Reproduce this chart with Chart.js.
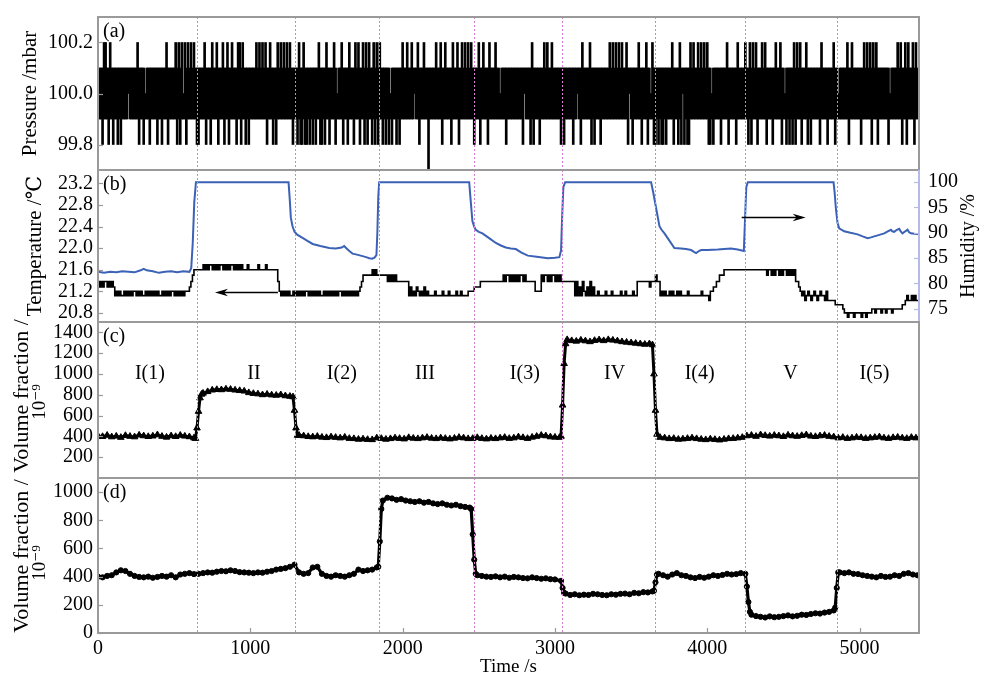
<!DOCTYPE html>
<html><head><meta charset="utf-8">
<script src="https://cdn.jsdelivr.net/npm/chart.js@4.4.1/dist/chart.umd.min.js"></script>
<style>
html,body{margin:0;padding:0;background:#fff;}
#wrap{position:relative;width:984px;height:678px;background:#fff;}
#wrap canvas{position:absolute;left:0;top:0;}
</style></head>
<body><div id="wrap">
<canvas id="cA" width="984" height="678"></canvas>
<canvas id="cB" width="984" height="678"></canvas>
<canvas id="cC" width="984" height="678"></canvas>
<canvas id="cD" width="984" height="678"></canvas>
</div>
<script>
// ---------------- DATA ----------------
const X_MAX = 5390;
const X_TICKS = [0, 1000, 2000, 3000, 4000, 5000];
const PHASE_BOUNDS = [650, 1293, 1844, 2467, 3045, 3655, 4245, 4849];
const PHASE_LABELS = ['I(1)', 'II', 'I(2)', 'III', 'I(3)', 'IV', 'I(4)', 'V', 'I(5)'];
const PHASE_LABEL_T = [341, 1024, 1601, 2146, 2802, 3392, 3950, 4547, 5098];
const PHASE_LABEL_V = 1000;

// (a) pressure: min..max range within each 10 s window, coded
const P_STEP = 10;
const P_N = 539;
const P_RANGES = {'0': [99.7, 100.1], '1': [99.8, 100.1], '2': [99.9, 100.1],
                  '3': [99.9, 100.0], '4': [100.0, 100.1], '5': [99.9, 100.2]};
const P_BASE = [
"222222222232222222224222222222232222222222222422222222223222",
"222222422222222222232222222222222422222222222222322222222222",
"222232222222222222222422222222222222232222222222222222422222",
"222222222222322222222222222242222222222222222232222222222222",
"222222242222222222222222322222222222222242222222222222232222",
"222222222222222422222222222222322222222222222222242222222222",
"222322222222222222222222422222222222222222232222222222222222",
"222222222242222222222222222222232222222222222222422222222222",
"222222322222222222222422222222222222222232222222222222222422",
"222222222222222222322222222222222224222222222222222222222222"
].join('');
const P_UP_IDX = [4,5,8,26,45,51,53,55,57,59,61,63,70,75,78,82,85,88,92,93,95,104,106,108,110,113,118,120,122,124,126,132,135,145,150,155,160,165,169,171,174,176,178,181,183,185,200,203,206,210,214,222,225,228,233,236,239,241,243,245,250,253,257,261,285,293,295,298,318,323,336,338,340,342,344,347,355,360,364,377,382,389,391,394,396,398,400,413,420,425,428,430,432,436,438,445,448,457,459,461,465,475,483,492,495,503,505,507,509,511,525,527,530,532,535,537];
const P_DOWN_IDX = [3,7,10,13,15,27,30,34,39,42,46,52,54,58,65,66,71,74,79,83,86,91,94,97,99,111,115,117,128,131,133,134,136,137,139,141,143,146,147,149,152,156,161,164,168,172,175,177,180,182,184,187,189,191,193,196,198,211,226,232,237,247,251,256,268,279,284,286,290,304,306,312,317,324,326,330,348,351,357,361,365,366,368,370,371,373,378,381,383,385,387,388,401,402,404,409,414,419,427,429,433,439,443,449,452,454,456,458,462,466,468,474,479,484,493,501,508,512,519,528,531,536];
const P_DEEP_IDX = [217];

// (b) temperature (left axis), level codes every 10 s from segment start
const T_LEVELS = {A:20.72,B:20.80,C:20.87,D:20.95,E:21.03,F:21.12,G:21.20,H:21.28,I:21.38,J:21.50,K:21.60,L:21.69};
const T_STEP = 10;
const TEMP_SEGS = [
 [0,    "IHIHIIHIHIH"],
 [110,  "FGFGFFGFGFGFGGFGFGFFGFGFGFGFGFFGFGFGFGGFGFGFGFG"],
 [590,  "GHIJK"],
 [640,  "KKKKKLKLKLLKLKLKLLKLKLKLLKLKLKLKKKLKKKKKKLKKKKLKKKKKKK"],
 [1180, "IG"],
 [1200, "FGFGFGFFGFGFGFGFGGFGFGFGFGFFGFGFGFGFGFGGFGFGFGFGFGFG"],
 [1720, "HIJJJJJJKJKJ"],
 [1840, "JJJJJJIJIJIJI"],
 [1970, "IIIIIII"],
 [2040, "FHFGFHGFGFHFGF"],
 [2180, "FFFGFFFFGFFFGFFFFGFFGFFFF"],
 [2430, "GGGGHHHHIIII"],
 [2550, "IIIIIIIIII"],
 [2650, "IJIJJIJIJIJIJJIJ"],
 [2810, "IIIIII"],
 [2870, "GGGG"],
 [2910, "JIJJIJIJJIJIJ"],
 [3040, "IIIIIIIII"],
 [3130, "FIFHFIGFHFIFH"],
 [3260, "FFGFFFFGFFFGFFFFFGFFGFFFFGFF"],
 [3540, "IIIIIIIIHIIIJ"],
 [3670, "IIF"],
 [3700, "GFGFFGFGFFGFG"],
 [3830, "FFFFGFFFFFFFFGFFFF"],
 [4010, "E"],
 [4020, "GGHHIIJJJKKK"],
 [4140, "KKKKKKKKKKKKKKKKKKKKKKKK"],
 [4380, "KJKKJKJKKJKJKKJKJKJK"],
 [4580, "IIHG"],
 [4620, "FGEFGFEFGFEFGFFEG"],
 [4790, "EEEEEDDDDDC"],
 [4900, "BBABBBABBBBABBABBB"],
 [5080, "CCBCCCBCCBCCCBCCCC"],
 [5260, "CCDD"],
 [5300, "EFEEFEFEEE"]
];

// (b) humidity (right axis)
const HUM_T = [0,40,80,120,160,200,240,280,300,320,360,400,440,480,520,560,600,612,622,632,643,
 1251,1258,1266,1277,1290,1310,1343,1375,1409,1460,1518,1560,1600,1616,1632,1650,1671,1700,1737,1760,1781,1800,1815,1828,1834,1840,1846,
 2437,2445,2458,2470,2480,2500,2524,2570,2612,2645,2677,2710,2743,2780,2822,2880,2953,3000,3029,3040,3047,3055,3067,
 3631,3645,3664,3686,3700,3719,3750,3784,3828,3860,3894,3915,3927,3945,3960,4000,4069,4110,4156,4200,4240,4247,4256,4266,
 4829,4836,4844,4855,4866,4899,4940,4987,5020,5052,5075,5096,5130,5162,5185,5206,5215,5227,5245,5260,5270,5282,5300,5315,5325,5337,5360,5390];
const HUM_V = [82.3,82.1,82.3,82.2,82.4,82.3,82.2,82.6,82.9,82.6,82.4,82.1,82.3,82.4,82.2,82.4,82.3,83,88,96,100,
 100,97,93,91.3,90.2,89.6,89.0,88.4,87.8,87.4,87.0,86.9,87.1,87.4,86.9,86.4,85.9,85.7,85.4,85.2,85.0,84.9,85.1,85.6,90,97,100,
 100,97,92.3,91.2,90.6,90.2,89.9,88.9,88.0,87.5,87.1,86.9,86.8,86.1,85.5,85.3,85.0,85.1,85.2,86.5,93,99,100,
 100,98,94.9,91.3,90.6,89.9,88.5,87.0,86.9,86.8,86.6,86.2,86.0,86.4,86.6,86.6,86.7,86.8,86.9,86.7,86.4,92,99,100,
 100,98,94.9,92,90.9,90.3,90.0,89.7,89.3,88.95,89.1,89.3,89.6,89.9,90.3,90.6,90.3,90.2,90.6,90.8,90.3,89.9,90.3,90.6,90.1,89.9,89.8,89.7];

// arrows in (b)
const ARROW_TEMP_T = [1181, 768];   const ARROW_TEMP_V = 21.18;
const ARROW_HUM_T = [4226, 4646];   const ARROW_HUM_V = 93.2;

// (c) and (d) volume fraction (10^-9): [start s, step s, values]
const GAS_C_SEGS = [
 [0,    30, [405,398,410,395,402,390,408,400,395,412,405,398,403,415,400,392,405,398,410,402,396,385]],
 [640,  10, [380,480,640,770,805]],
 [690,  30, [815,830,845,850,848,855,852,845,840,835,820,812,808,800,805,798,795,800,790,785]],
 [1280, 10, [780,650,480,410]],
 [1320, 30, [410,405,398,395,400,392,388,395,390,385,392,380,378,372,375,370,368,385,380,372,378,385,380,375,388,382,378,385,390,382,378,385,380,375,382,390,385,378,380,388,380,375,382,378,385,390,380,385,395,388,380,392,400,410,405,395,392,390]],
 [3040, 10, [400,700,1100,1290]],
 [3080, 30, [1330,1320,1315,1325,1318,1310,1322,1328,1320,1330,1325,1318,1310,1305,1300,1295,1290,1285,1290]],
 [3640, 10, [1280,1000,650,420]],
 [3690, 30, [390,385,378,380,372,375,380,385,378,372,368,375,370,365,372,378,380,385,390]],
 [4260, 30, [405,410,400,415,408,402,410,405,398,412,405,400,408,415,402,398,405,410,400,395]],
 [4860, 30, [385,390,380,385,392,388,380,385,390,395,385,380,388,392,385,380,390,385,388]]
];
const GAS_D_SEGS = [
 [0,    30, [400,395,405,410,430,445,440,420,405,398,395,400,392,398,405,400,410,395,415,420,425,418]],
 [660,  30, [420,425,430,428,435,440,438,445,440,432,430,428,425,430,428,435,440,450,455,460,470,485]],
 [1320, 30, [430,420,425,465,470,420,405,400,410,405,400,410,420,450,440,445,450,465]],
 [1840, 10, [470,650,880]],
 [1870, 30, [940,960,955,945,950,940,935,930,935,925,930,920,915,920,910,905,910,900,895,890]],
 [2450, 10, [880,700,520,420]],
 [2490, 30, [410,405,400,398,402,395,400,392,398,395,390,388,395,390,385,388,382,380]],
 [3040, 10, [370,320,285]],
 [3070, 30, [280,270,275,268,272,270,278,275,270,268,275,272,278,280,275,285,282,290,288,295]],
 [3650, 10, [300,360,415]],
 [3680, 30, [420,410,400,415,425,410,405,395,390,398,392,400,410,405,412,420,415,418,425]],
 [4250, 10, [420,330,220,150]],
 [4290, 30, [130,120,115,110,118,112,115,120,125,118,122,130,128,135,140,138,145,150,160]],
 [4840, 10, [180,320,430]],
 [4870, 30, [430,425,430,420,418,410,405,400,395,405,398,400,410,405,420,425,415,410]]
];

// axis ticks
const P_TICKS = [99.8, 100.0, 100.2];
const T_TICKS = [20.8, 21.2, 21.6, 22.0, 22.4, 22.8, 23.2];
const H_TICKS = [75, 80, 85, 90, 95, 100];
const C_TICKS = [200, 400, 600, 800, 1000, 1200, 1400];
const D_TICKS = [0, 200, 400, 600, 800, 1000];

// ---------------- BUILD SERIES ----------------
const pCodes = P_BASE.slice(0, P_N).split('');
P_UP_IDX.forEach(i => { pCodes[i] = '5'; });
P_DOWN_IDX.forEach(i => { if (pCodes[i] !== '5') pCodes[i] = '1'; });
P_DEEP_IDX.forEach(i => { pCodes[i] = '0'; });
const pressure = pCodes.map((c, i) => ({x: i * P_STEP, y: P_RANGES[c]}));

function fromCodeSegs(segs, step, levels) {
  const m = new Map();
  segs.forEach(([t0, s]) => s.split('').forEach((c, k) => m.set(t0 + step * k, levels[c])));
  return [...m.keys()].sort((a, b) => a - b).map(t => ({x: t, y: m.get(t)}));
}
function fromValSegs(segs) {
  const m = new Map();
  segs.forEach(([t0, step, arr]) => arr.forEach((v, k) => m.set(t0 + step * k, v)));
  return [...m.keys()].sort((a, b) => a - b).map(t => ({x: t, y: m.get(t)}));
}
const temperature = fromCodeSegs(TEMP_SEGS, T_STEP, T_LEVELS);
const humidity = HUM_T.map((t, i) => ({x: t, y: HUM_V[i]}));
const gasC = fromValSegs(GAS_C_SEGS);
const gasD = fromValSegs(GAS_D_SEGS);

// ---------------- STYLE ----------------
const FONT = "'Liberation Serif','DejaVu Serif',serif";
Chart.defaults.font.family = FONT;
Chart.defaults.font.size = 20;
Chart.defaults.color = '#000';
const GRAY = '#9a9a9a';
const BLUE = '#3b62b6';
const BLUE_AXIS = '#b3bbe6';
const PHASE_COLOR = '#d67fd6';

function xHidden() { return {type: 'linear', min: 0, max: X_MAX, offset: false, display: false}; }

function leftAxis(min, max, ticks, dec, title, tsize, tpad) {
  return {
    type: 'linear', position: 'left', min: min, max: max,
    afterFit(s) { s.width = 98; },
    afterBuildTicks(s) { s.ticks = ticks.map(v => ({value: v})); },
    grid: {display: false, drawTicks: false},
    border: {display: false},
    ticks: {padding: 5, autoSkip: false, font: {size: 20}, color: '#000',
            callback: v => Number(v).toFixed(dec)},
    title: title ? {display: true, text: title, color: '#000',
            font: {size: tsize}, padding: {top: tpad, bottom: 0}} : {display: false}
  };
}

function drawArrow(ctx, x1, y, x2) {
  const d = Math.sign(x2 - x1);
  ctx.save();
  ctx.strokeStyle = '#000'; ctx.fillStyle = '#000'; ctx.lineWidth = 1.3;
  ctx.beginPath(); ctx.moveTo(x1, y); ctx.lineTo(x2 - d * 6, y); ctx.stroke();
  ctx.beginPath(); ctx.moveTo(x2, y); ctx.lineTo(x2 - d * 13, y - 3.8);
  ctx.lineTo(x2 - d * 9, y); ctx.lineTo(x2 - d * 13, y + 3.8); ctx.closePath(); ctx.fill();
  ctx.restore();
}

function drawVolTitle(ctx, cx, cy, cy2) {
  ctx.save();
  ctx.fillStyle = '#000'; ctx.textAlign = 'center'; ctx.textBaseline = 'middle';
  ctx.translate(cx, cy); ctx.rotate(-Math.PI / 2);
  ctx.font = '22px ' + FONT;
  ctx.fillText('Volume fraction /', 0, 0);
  ctx.restore();
  ctx.save();
  ctx.fillStyle = '#000'; ctx.textAlign = 'center'; ctx.textBaseline = 'middle';
  ctx.translate(cx + 18, cy2); ctx.rotate(-Math.PI / 2);
  ctx.font = '19px ' + FONT;
  ctx.fillText('10\u207B\u2079', 0, 0);
  ctx.restore();
}

function panelPlugin(cfg) {
  return {
    id: 'panel' + cfg.tag.replace(/\W/g, ''),
    afterDatasetsDraw(chart) {
      const {ctx, chartArea: a, scales} = chart;
      ctx.save();
      // phase boundary lines
      ctx.strokeStyle = PHASE_COLOR; ctx.lineWidth = 1; ctx.setLineDash([2, 2]);
      PHASE_BOUNDS.forEach(t => {
        const x = Math.round(scales.x.getPixelForValue(t)) + 0.5;
        ctx.beginPath(); ctx.moveTo(x, a.top); ctx.lineTo(x, a.bottom); ctx.stroke();
      });
      ctx.setLineDash([]);
      // frame
      ctx.strokeStyle = GRAY; ctx.lineWidth = 2;
      ctx.strokeRect(a.left, a.top, a.right - a.left, a.bottom - a.top);
      if (cfg.rightColor) {
        ctx.strokeStyle = cfg.rightColor;
        ctx.beginPath(); ctx.moveTo(a.right, a.top); ctx.lineTo(a.right, a.bottom); ctx.stroke();
      }
      // inner tick marks
      ctx.lineWidth = 1.2;
      Object.values(scales).forEach(s => {
        if (!s.options.display) return;
        (s.ticks || []).forEach(tk => {
          const p = Math.round(s.getPixelForValue(tk.value)) + 0.5;
          ctx.beginPath();
          if (s.axis === 'x') {
            ctx.strokeStyle = GRAY; ctx.moveTo(p, a.bottom); ctx.lineTo(p, a.bottom - 5);
          } else if (s.position === 'left') {
            ctx.strokeStyle = GRAY; ctx.moveTo(a.left, p); ctx.lineTo(a.left + 5, p);
          } else {
            ctx.strokeStyle = cfg.rightColor || GRAY; ctx.moveTo(a.right, p); ctx.lineTo(a.right - 5, p);
          }
          ctx.stroke();
        });
      });
      // panel tag
      ctx.fillStyle = '#000'; ctx.font = '20px ' + FONT;
      ctx.textAlign = 'left'; ctx.textBaseline = 'middle';
      ctx.fillText(cfg.tag, a.left + 5, a.top + 15);
      if (cfg.extra) cfg.extra(chart, ctx);
      ctx.restore();
    }
  };
}

const common = {
  responsive: false, maintainAspectRatio: false, animation: false, devicePixelRatio: 1,
  events: [],
  plugins: {legend: {display: false}, tooltip: {enabled: false}}
};

// ---------------- (a) ----------------
new Chart(document.getElementById('cA'), {
  type: 'bar',
  data: {datasets: [{data: pressure, backgroundColor: '#000', borderWidth: 0,
    barThickness: 2, grouped: false}]},
  options: Object.assign({}, common, {
    layout: {padding: {top: 15, bottom: 508, left: 0, right: 65}},
    scales: {
      x: xHidden(),
      y: leftAxis(99.7, 100.3, P_TICKS, 1, 'Pressure /mbar', 21, 18)
    }
  }),
  plugins: [panelPlugin({tag: '(a)'})]
});

// ---------------- (b) ----------------
new Chart(document.getElementById('cB'), {
  type: 'line',
  data: {datasets: [
    {data: humidity, yAxisID: 'y1', borderColor: BLUE, borderWidth: 2, pointRadius: 0, tension: 0},
    {data: temperature, yAxisID: 'y', borderColor: '#000', borderWidth: 1.6, pointRadius: 0, stepped: true}
  ]},
  options: Object.assign({}, common, {
    layout: {padding: {top: 170, bottom: 356, left: 0, right: 0}},
    scales: {
      x: xHidden(),
      y: leftAxis(20.63, 23.45, T_TICKS, 1, 'Temperature /\u2103', 21, 23),
      y1: {
        type: 'linear', position: 'right', min: 72.4, max: 102.4,
        afterFit(s) { s.width = 65; },
        afterBuildTicks(s) { s.ticks = H_TICKS.map(v => ({value: v})); },
        grid: {display: false, drawTicks: false},
        border: {display: false},
        ticks: {padding: 9, autoSkip: false, font: {size: 20}, color: '#000'},
        title: {display: false}
      }
    }
  }),
  plugins: [panelPlugin({tag: '(b)', rightColor: BLUE_AXIS, extra(chart, ctx) {
    const {x, y, y1} = chart.scales;
    drawArrow(ctx, x.getPixelForValue(ARROW_TEMP_T[0]), Math.round(y.getPixelForValue(ARROW_TEMP_V)) + 0.5, x.getPixelForValue(ARROW_TEMP_T[1]));
    drawArrow(ctx, x.getPixelForValue(ARROW_HUM_T[0]), Math.round(y1.getPixelForValue(ARROW_HUM_V)) + 0.5, x.getPixelForValue(ARROW_HUM_T[1]));
    ctx.save();
    ctx.translate(969, (chart.chartArea.top + chart.chartArea.bottom) / 2);
    ctx.rotate(-Math.PI / 2);
    ctx.font = '20px ' + FONT; ctx.fillStyle = '#000';
    ctx.textAlign = 'center'; ctx.textBaseline = 'middle';
    ctx.fillText('Humidity /%', 0, 0);
    ctx.restore();
  }})]
});

// ---------------- (c) ----------------
new Chart(document.getElementById('cC'), {
  type: 'line',
  data: {datasets: [{data: gasC, borderColor: '#000', backgroundColor: '#000', borderWidth: 3,
    pointStyle: 'triangle', pointRadius: 3.8, pointBorderWidth: 1, tension: 0}]},
  options: Object.assign({}, common, {
    layout: {padding: {top: 322, bottom: 200, left: 0, right: 65}},
    scales: {
      x: xHidden(),
      y: leftAxis(0, 1500, C_TICKS, 0, null)
    }
  }),
  plugins: [panelPlugin({tag: '(c)', extra(chart, ctx) {
    const {x, y} = chart.scales;
    ctx.font = '20px ' + FONT; ctx.fillStyle = '#000';
    ctx.textAlign = 'center'; ctx.textBaseline = 'middle';
    PHASE_LABELS.forEach((lab, i) => ctx.fillText(lab, x.getPixelForValue(PHASE_LABEL_T[i]), y.getPixelForValue(PHASE_LABEL_V)));
    drawVolTitle(ctx, 22, 396, 402);
  }})]
});

// ---------------- (d) ----------------
new Chart(document.getElementById('cD'), {
  type: 'line',
  data: {datasets: [{data: gasD, borderColor: '#000', backgroundColor: '#000', borderWidth: 3.2,
    pointStyle: 'circle', pointRadius: 2.6, pointBorderWidth: 1, tension: 0}]},
  options: Object.assign({}, common, {
    layout: {padding: {top: 478, bottom: 0, left: 0, right: 65}},
    scales: {
      x: {
        type: 'linear', min: 0, max: X_MAX, position: 'bottom',
        afterFit(s) { s.height = 45; },
        afterBuildTicks(s) { s.ticks = X_TICKS.map(v => ({value: v})); },
        grid: {display: false, drawTicks: false},
        border: {display: false},
        ticks: {padding: 4, autoSkip: false, maxRotation: 0, font: {size: 20}, color: '#000',
                callback: v => String(v)},
        title: {display: true, text: 'Time /s', color: '#000', font: {size: 19}, padding: {top: 0, bottom: 0}}
      },
      y: leftAxis(0, 1100, D_TICKS, 0, null)
    }
  }),
  plugins: [panelPlugin({tag: '(d)', extra(chart, ctx) {
    drawVolTitle(ctx, 22, 556, 563);
  }})]
});
</script></body></html>
